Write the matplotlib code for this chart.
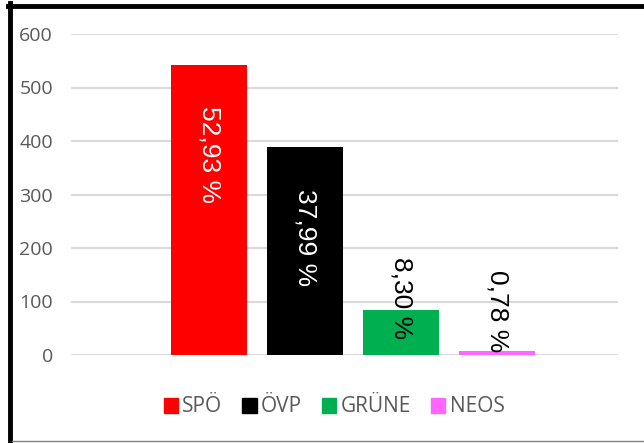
import matplotlib
matplotlib.use("Agg")
import matplotlib.pyplot as plt
from matplotlib.lines import Line2D
import numpy as np

# seats / votes per party
parties = ["SPÖ", "ÖVP", "GRÜNE", "NEOS"]
values = [542, 389, 85, 8]
y_ticks = [0, 100, 200, 300, 400, 500, 600]

colors = ["#FF0000", "#000000", "#00B050", "#FF66FF"]
label_colors = ["white", "white", "black", "black"]
label_y = [375, 219, 107, 82]  # where the rotated labels sit (data units)

tick_font = ["Open Sans", "DejaVu Sans"]
label_font = ["Liberation Sans Narrow", "Liberation Sans", "DejaVu Sans"]

fig = plt.figure(figsize=(6.44, 4.43), dpi=100)
ax = fig.add_axes([71 / 644, 1 - 355 / 443, 547 / 644, 321 / 443])

x = np.arange(len(parties))
bars = ax.bar(x, values, width=0.79, color=colors, label=parties, zorder=3)

total = sum(values)
for i, v in enumerate(values):
    pct = f"{v / total * 100:.2f}".replace(".", ",") + " %"
    ax.text(x[i], label_y[i], pct, rotation=270, ha="center", va="center",
            color=label_colors[i], fontsize=19, family=label_font, zorder=4)

ax.set_xlim(-1.4375, 4.26)
ax.set_ylim(0, 600)
ax.set_yticks(y_ticks)
ax.set_yticklabels([str(t) for t in y_ticks], family=tick_font, fontsize=14, color="#595959")
ax.tick_params(axis="y", length=0, pad=13)
ax.set_xticks([])
ax.grid(axis="y", color="#D9D9D9", linewidth=1.5, zorder=0)
for s in ax.spines.values():
    s.set_visible(False)

handles = [plt.Rectangle((0, 0), 1, 1, color=c) for c in colors]
fig.legend(handles, parties, loc="center", bbox_to_anchor=(334 / 644, 1 - 407 / 443),
           ncol=4, frameon=False, handlelength=0.7, handleheight=0.7,
           handletextpad=0.2, columnspacing=0.95,
           prop={"family": tick_font, "size": 15}, labelcolor="#595959")

# border of the original chart frame
fig.add_artist(Line2D([10 / 644, 10 / 644], [1 - 441 / 443, 1 - 3 / 443],
                      color="black", linewidth=3.5, transform=fig.transFigure))
fig.add_artist(Line2D([8 / 644, 1], [1 - 5.5 / 443, 1 - 5.5 / 443],
                      color="black", linewidth=3.5, transform=fig.transFigure))
fig.add_artist(Line2D([12 / 644, 1], [1 - 441 / 443, 1 - 441 / 443],
                      color="#808080", linewidth=1, transform=fig.transFigure))

fig.savefig("out.png", dpi=100)
